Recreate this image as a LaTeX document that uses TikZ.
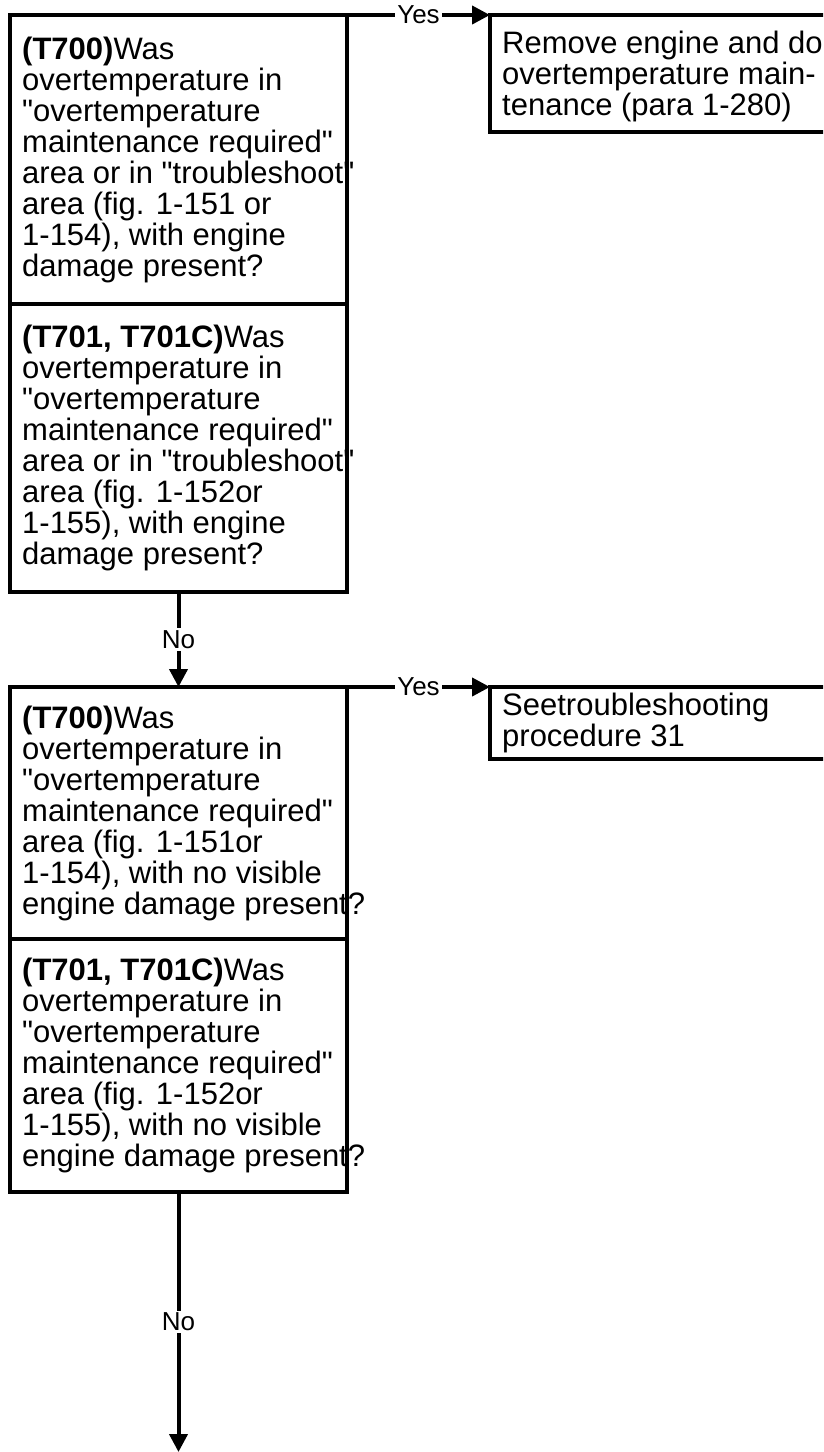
\documentclass[tikz,border=0pt]{standalone}
\usepackage{fontspec}
\setmainfont{Liberation Sans}[Ligatures=TeXOff]
\usetikzlibrary{arrows.meta, positioning}

\begin{document}
\begin{tikzpicture}[
        x=1pt, y=1pt,
        box/.style={rectangle, draw, line width=4pt, outer sep=0pt, minimum width=337pt, inner sep=0pt},
        qtext/.style={align=left, inner sep=0pt, font=\fontsize{31}{31}\selectfont},
        arrow/.style={-{Triangle[length=18pt, width=18pt]}, line width=4pt},
        lbl/.style={fill=white, inner sep=2pt, font=\fontsize{26}{26}\selectfont}
    ]
        \useasboundingbox (0,0) rectangle (823,-1452);
        \clip (0,0) rectangle (823,-1452);

        % First check: engine damage present
        \node[box, minimum height=289pt, anchor=north west] (a1) at (10,-15) {};
        \node[qtext, right=12pt of a1.west] (a1t) {\textbf{(T700)}Was\\overtemperature in\\"overtemperature\\maintenance required"\\area or in "troubleshoot"\\area (fig. 1-151 or\\1-154), with engine\\damage present?};
        \node[box, minimum height=288pt, below=0pt of a1] (a2) {};
        \node[qtext, right=12pt of a2.west] (a2t) {\textbf{(T701, T701C)}Was\\overtemperature in\\"overtemperature\\maintenance required"\\area or in "troubleshoot"\\area (fig. 1-152or\\1-155), with engine\\damage present?};

        \node[box, minimum height=117pt, right=143pt of a1.north east, anchor=north west] (b1) {};
        \node[qtext, right=12pt of b1.west, yshift=-3pt] (b1t) {Remove engine and do\\overtemperature main-\\tenance (para 1-280)};
        \draw[arrow] (a1.north east) -- node[lbl] {Yes} (b1.north west);

        % Second check: no visible damage
        \node[box, minimum height=252pt, below=95pt of a2] (c1) {};
        \node[qtext, right=12pt of c1.west] (c1t) {\textbf{(T700)}Was\\overtemperature in\\"overtemperature\\maintenance required"\\area (fig. 1-151or\\1-154), with no visible\\engine damage present?};
        \node[box, minimum height=253pt, below=0pt of c1] (c2) {};
        \node[qtext, right=12pt of c2.west] (c2t) {\textbf{(T701, T701C)}Was\\overtemperature in\\"overtemperature\\maintenance required"\\area (fig. 1-152or\\1-155), with no visible\\engine damage present?};
        \draw[arrow] (a2.south) -- node[lbl] {No} (c1.north);

        \node[box, minimum height=72pt, right=143pt of c1.north east, anchor=north west] (b2) {};
        \node[qtext, right=12pt of b2.west] (b2t) {Seetroubleshooting\\procedure 31};
        \draw[arrow] (c1.north east) -- node[lbl] {Yes} (b2.north west);

        % Continue below
        \coordinate[below=260pt of c2.south] (next);
        \draw[arrow] (c2.south) -- node[lbl] {No} (next);

    \end{tikzpicture}
\end{document}
